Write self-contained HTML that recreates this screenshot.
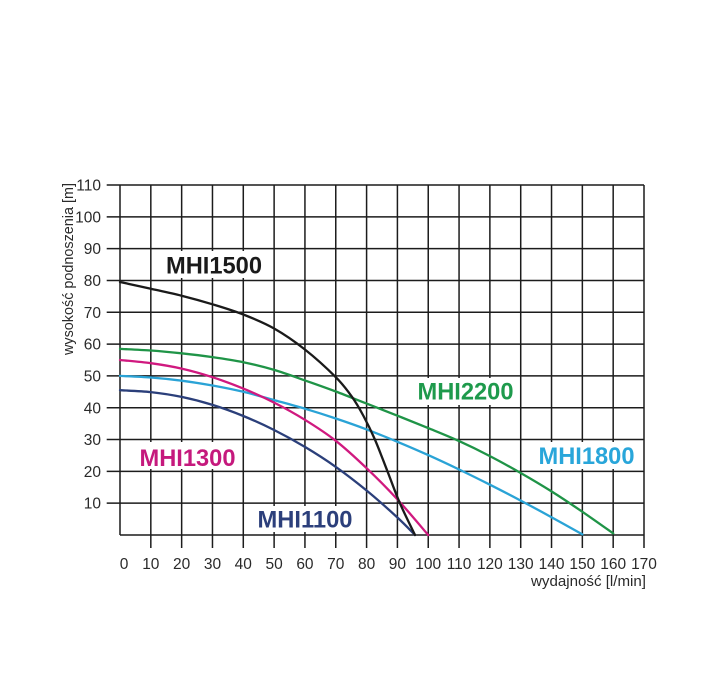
<!DOCTYPE html>
<html>
<head>
<meta charset="utf-8">
<style>
  html,body{margin:0;padding:0;background:#fff;}
  svg{display:block;}
  text{font-family:"Liberation Sans",Arial,sans-serif;}
</style>
</head>
<body>
<svg width="708" height="676" viewBox="0 0 708 676" xmlns="http://www.w3.org/2000/svg">
  <rect x="0" y="0" width="708" height="676" fill="#fff"/>
  <g stroke="#1c1c1c" stroke-width="1.5" fill="none">
    <line x1="120" y1="185" x2="120" y2="535"/>
    <line x1="150.82" y1="185" x2="150.82" y2="548"/>
    <line x1="181.65" y1="185" x2="181.65" y2="548"/>
    <line x1="212.47" y1="185" x2="212.47" y2="548"/>
    <line x1="243.29" y1="185" x2="243.29" y2="548"/>
    <line x1="274.12" y1="185" x2="274.12" y2="548"/>
    <line x1="304.94" y1="185" x2="304.94" y2="548"/>
    <line x1="335.76" y1="185" x2="335.76" y2="548"/>
    <line x1="366.59" y1="185" x2="366.59" y2="548"/>
    <line x1="397.41" y1="185" x2="397.41" y2="548"/>
    <line x1="428.24" y1="185" x2="428.24" y2="548"/>
    <line x1="459.06" y1="185" x2="459.06" y2="548"/>
    <line x1="489.88" y1="185" x2="489.88" y2="548"/>
    <line x1="520.71" y1="185" x2="520.71" y2="548"/>
    <line x1="551.53" y1="185" x2="551.53" y2="548"/>
    <line x1="582.35" y1="185" x2="582.35" y2="548"/>
    <line x1="613.18" y1="185" x2="613.18" y2="548"/>
    <line x1="644" y1="185" x2="644" y2="548"/>
    <line x1="120" y1="535" x2="644" y2="535"/>
    <line x1="106.7" y1="503.18" x2="644" y2="503.18"/>
    <line x1="106.7" y1="471.36" x2="644" y2="471.36"/>
    <line x1="106.7" y1="439.55" x2="644" y2="439.55"/>
    <line x1="106.7" y1="407.73" x2="644" y2="407.73"/>
    <line x1="106.7" y1="375.91" x2="644" y2="375.91"/>
    <line x1="106.7" y1="344.09" x2="644" y2="344.09"/>
    <line x1="106.7" y1="312.27" x2="644" y2="312.27"/>
    <line x1="106.7" y1="280.45" x2="644" y2="280.45"/>
    <line x1="106.7" y1="248.64" x2="644" y2="248.64"/>
    <line x1="106.7" y1="216.82" x2="644" y2="216.82"/>
    <line x1="106.7" y1="185" x2="644" y2="185"/>
  </g>

  <g fill="#fff">
    <rect x="162" y="251" width="104" height="27"/>
    <rect x="136" y="442" width="103" height="27"/>
    <rect x="254" y="506" width="102" height="26"/>
    <rect x="414" y="378" width="104" height="27"/>
    <rect x="535" y="442" width="104" height="27"/>
  </g>

  <g fill="none" stroke-width="2.3" stroke-linejoin="round" stroke-linecap="round">
    <path id="cg" stroke="#1f9447" d="M120,348.9 L150.8,350.5 181.6,353.3 212.5,357.1 243.3,362.2 274.1,369.9 304.9,380.4 335.8,391.5 366.6,403.6 397.4,415.7 428.2,428.1 459.1,441.1 489.9,456.1 520.7,473.0 551.5,491.4 582.4,511.8 613.2,533.4"/>
    <path id="cc" stroke="#2aa3d6" d="M120,375.9 L150.8,377.5 181.6,380.7 212.5,385.5 243.3,391.8 274.1,400.1 304.9,408.7 335.8,418.5 366.6,429.4 397.4,441.8 428.2,455.1 459.1,469.5 489.9,484.7 520.7,500.6 551.5,517.2 582.4,534.4"/>
    <path id="cp" stroke="#d0197f" d="M120,360.0 L150.8,363.2 181.6,368.6 212.5,377.2 243.3,388.6 274.1,402.6 304.9,419.8 335.8,440.8 366.6,468.2 397.4,499.4 428.2,535"/>
    <path id="cn" stroke="#2b3f7a" d="M120,390.2 L150.8,392.1 181.6,396.9 212.5,404.9 243.3,416.0 274.1,430.0 304.9,446.9 335.8,466.9 366.6,490.5 397.4,517.5 415,535"/>
    <path id="cb" stroke="#1a1a1a" d="M120,282.0 L150.8,288.7 181.6,295.7 212.5,304.3 243.3,314.5 274.1,328.5 304.9,349.5 335.8,377.2 351.8,396.6 363.5,416 374.9,439.5 387.5,471.4 399.9,503.2 415,535"/>
  </g>

  <g font-weight="bold" font-size="24">
    <text x="166" y="273.5" fill="#1a1a1a" textLength="96" lengthAdjust="spacingAndGlyphs">MHI1500</text>
    <text x="139.5" y="466" fill="#c5197d" textLength="96" lengthAdjust="spacingAndGlyphs">MHI1300</text>
    <text x="257.5" y="527.3" fill="#2c3f7b" textLength="95" lengthAdjust="spacingAndGlyphs">MHI1100</text>
    <text x="417.5" y="399.3" fill="#1e9a4c" textLength="96" lengthAdjust="spacingAndGlyphs">MHI2200</text>
    <text x="538.5" y="464" fill="#29a6da" textLength="96" lengthAdjust="spacingAndGlyphs">MHI1800</text>
  </g>

  <g font-size="15.5" fill="#2a2a2a" text-anchor="end">
    <text x="101" y="508.7">10</text>
    <text x="101" y="476.9">20</text>
    <text x="101" y="445.1">30</text>
    <text x="101" y="413.3">40</text>
    <text x="101" y="381.5">50</text>
    <text x="101" y="349.7">60</text>
    <text x="101" y="317.8">70</text>
    <text x="101" y="286">80</text>
    <text x="101" y="254.2">90</text>
    <text x="101" y="222.4">100</text>
    <text x="101" y="190.6">110</text>
  </g>

  <g font-size="15.5" fill="#2a2a2a" text-anchor="middle">
    <text x="124" y="569">0</text>
    <text x="150.82" y="569">10</text>
    <text x="181.65" y="569">20</text>
    <text x="212.47" y="569">30</text>
    <text x="243.29" y="569">40</text>
    <text x="274.12" y="569">50</text>
    <text x="304.94" y="569">60</text>
    <text x="335.76" y="569">70</text>
    <text x="366.59" y="569">80</text>
    <text x="397.41" y="569">90</text>
    <text x="428.24" y="569">100</text>
    <text x="459.06" y="569">110</text>
    <text x="489.88" y="569">120</text>
    <text x="520.71" y="569">130</text>
    <text x="551.53" y="569">140</text>
    <text x="582.35" y="569">150</text>
    <text x="613.18" y="569">160</text>
    <text x="644" y="569">170</text>
  </g>

  <text x="646" y="586" font-size="15" fill="#2a2a2a" text-anchor="end" textLength="115" lengthAdjust="spacingAndGlyphs">wydajność [l/min]</text>
  <text transform="translate(73,269) rotate(-90)" x="0" y="0" font-size="14.5" fill="#2a2a2a" text-anchor="middle" textLength="172" lengthAdjust="spacingAndGlyphs">wysokość podnoszenia [m]</text>
</svg>
<script>
(function(){
  var ids=["cg","cc","cp","cn","cb"];
  ids.forEach(function(id){
    var el=document.getElementById(id);
    if(!el) return;
    var d=el.getAttribute("d").replace(/[ML]/g," ").trim().split(/\s+/);
    var pts=d.map(function(s){var a=s.split(",");return [parseFloat(a[0]),parseFloat(a[1])];});
    var n=pts.length;
    var out="M"+pts[0][0]+","+pts[0][1];
    for(var i=0;i<n-1;i++){
      var p0=pts[i-1]||pts[i],p1=pts[i],p2=pts[i+1],p3=pts[i+2]||pts[i+1];
      var c1x=p1[0]+(p2[0]-p0[0])/6,c1y=p1[1]+(p2[1]-p0[1])/6;
      var c2x=p2[0]-(p3[0]-p1[0])/6,c2y=p2[1]-(p3[1]-p1[1])/6;
      out+=" C"+c1x.toFixed(2)+","+c1y.toFixed(2)+" "+c2x.toFixed(2)+","+c2y.toFixed(2)+" "+p2[0]+","+p2[1];
    }
    el.setAttribute("d",out);
  });
})();
</script>
</body>
</html>
